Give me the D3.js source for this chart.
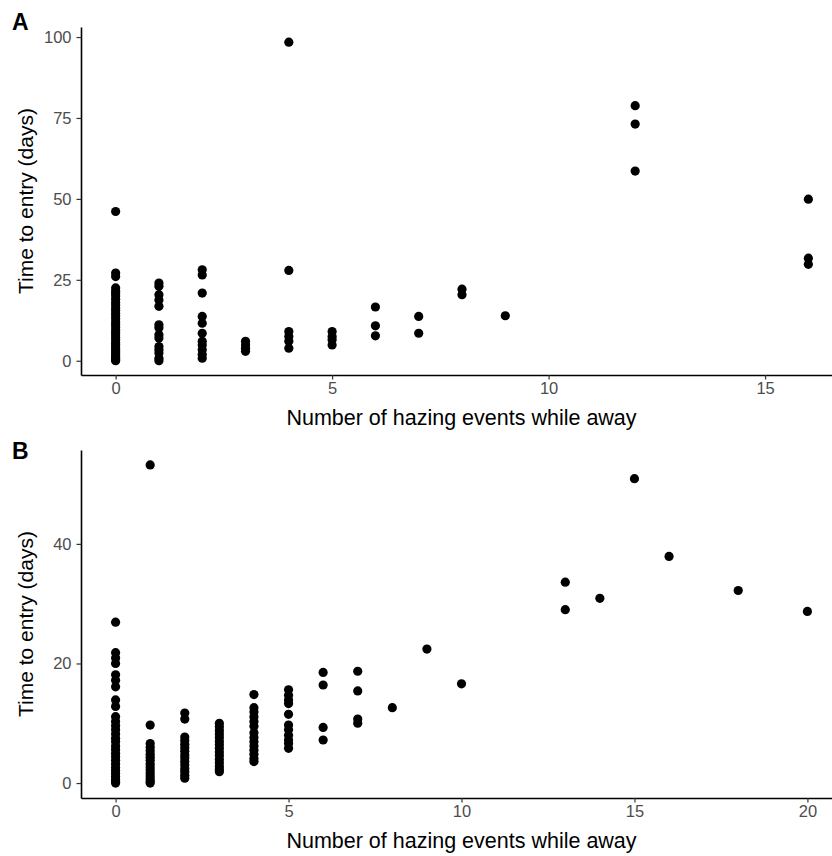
<!DOCTYPE html>
<html>
<head>
<meta charset="utf-8">
<script src="https://cdn.jsdelivr.net/npm/d3@7"></script>
<style>
  body { margin: 0; background: #fff; }
  svg { display: block; font-family: "Liberation Sans", Arial, sans-serif; }
</style>
</head>
<body>
<svg id="chart" width="832" height="856"></svg>
<script>
// ---------- Data ----------
// Panel A: hazing events while away (x) vs time to entry in days (y)
const panelA_x = [
  0,0,0,0,0,0,0,0,0,0,0,0,0,0,0,0,0,0,0,0,0,0,0,0,0,0,0,0,0,0,0,0,0,0,
  1,1,1,1,1,1,1,1,1,1,1,1,1,1,
  2,2,2,2,2,2,2,2,2,2,2,
  3,3,3,3,
  4,4,4,4,4,4,
  5,5,5,5,
  6,6,6,
  7,7,
  8,8,
  9,
  12,12,12,
  16,16,16
];
const panelA_y = [
  46.1,27.1,26.0,22.5,21.5,20.8,20.0,19.0,18.0,17.2,16.3,15.5,14.6,13.8,13.0,12.0,11.2,10.4,9.5,8.7,8.0,7.2,6.4,5.6,5.0,4.3,3.6,3.0,2.4,1.8,1.2,0.7,0.3,0.0,
  24.0,23.0,20.4,18.8,16.8,11.1,10.2,8.0,7.0,4.4,3.4,2.4,0.8,0.0,
  28.1,26.5,20.9,13.7,11.6,8.5,6.0,4.9,3.4,1.9,0.8,
  6.0,4.9,3.9,2.9,
  98.4,27.9,9.0,7.5,6.0,3.9,
  9.0,7.5,6.5,4.9,
  16.6,10.8,7.7,
  13.7,8.5,
  22.1,20.4,
  13.9,
  78.8,73.1,58.6,
  49.9,31.7,29.8
];

// Panel B
const panelB_x = [
  0,0,0,0,0,0,0,0,0,0,0,0,0,0,0,0,0,0,0,0,0,0,0,0,0,0,0,0,0,
  1,1,1,1,1,1,1,1,1,1,1,1,1,1,1,1,
  2,2,2,2,2,2,2,2,2,2,2,2,2,2,2,
  3,3,3,3,3,3,3,3,3,3,3,3,3,3,3,
  4,4,4,4,4,4,4,4,4,4,4,4,4,4,
  5,5,5,5,5,5,5,5,5,5,5,
  6,6,6,6,
  7,7,7,7,
  8,
  9,
  10,
  13,13,
  14,
  15,
  16,
  18,
  20
];
const panelB_y = [
  26.9,21.8,20.9,20.0,18.1,17.2,16.1,13.9,12.8,11.1,10.3,9.6,8.9,8.2,7.5,6.9,6.2,5.6,5.0,4.4,3.8,3.2,2.6,2.1,1.6,1.1,0.6,0.2,0.0,
  53.2,9.7,6.6,6.0,5.4,4.8,4.3,3.8,3.2,2.7,2.2,1.7,1.2,0.7,0.3,0.0,
  11.7,10.7,7.7,7.1,6.5,5.9,5.3,4.7,4.2,3.6,3.0,2.4,1.9,1.3,0.8,
  10.0,9.4,8.8,8.2,7.6,7.0,6.4,5.8,5.2,4.6,4.0,3.4,2.8,2.3,1.9,
  14.8,12.6,11.9,11.1,10.3,9.5,8.4,7.6,6.9,6.2,5.5,4.8,4.1,3.6,
  15.6,14.7,13.9,11.5,9.7,8.9,8.0,7.2,6.6,5.8,13.3,
  18.5,16.4,9.3,7.2,
  18.7,15.4,10.7,10.0,
  12.6,
  22.4,
  16.6,
  33.6,29.0,
  30.9,
  50.9,
  37.9,
  32.2,
  28.7
];

const panelA_xticks = [0, 5, 10, 15];
const panelA_yticks = [0, 25, 50, 75, 100];
const panelB_xticks = [0, 5, 10, 15, 20];
const panelB_yticks = [0, 20, 40];

const xTitle = "Number of hazing events while away";
const yTitle = "Time to entry (days)";
const panelLabels = ["A", "B"];

// ---------- Drawing ----------
const svg = d3.select("#chart");

function drawPanel(cfg) {
  const g = svg.append("g");
  const x = d3.scaleLinear().domain(cfg.xDomain).range([cfg.left, cfg.right]);
  const y = d3.scaleLinear().domain(cfg.yDomain).range([cfg.bottom, cfg.top]);

  // points
  g.append("g").selectAll("circle")
    .data(cfg.xs.map((v, i) => [v, cfg.ys[i]]))
    .join("circle")
    .attr("cx", d => x(d[0]))
    .attr("cy", d => y(d[1]))
    .attr("r", 4.6)
    .attr("fill", "#000");

  // x axis
  const xAxis = g.append("g")
    .attr("transform", `translate(0,${cfg.bottom})`)
    .call(d3.axisBottom(x).tickValues(cfg.xticks).tickSize(4.5).tickSizeOuter(0).tickPadding(3));
  // y axis
  const yAxis = g.append("g")
    .attr("transform", `translate(${cfg.left},0)`)
    .call(d3.axisLeft(y).tickValues(cfg.yticks).tickSize(4.5).tickSizeOuter(0).tickPadding(5));

  [xAxis, yAxis].forEach(a => {
    a.select(".domain").attr("stroke", "#000").attr("stroke-width", 1.6);
    a.selectAll(".tick line").attr("stroke", "#333").attr("stroke-width", 1.2);
    a.selectAll(".tick text").attr("fill", "#4d4d4d").attr("font-size", 16.5)
      .attr("font-family", "Liberation Sans, Arial, sans-serif");
  });

  // axis titles
  g.append("text")
    .attr("x", (cfg.left + 832) / 2 + 5)
    .attr("y", cfg.bottom + 50)
    .attr("text-anchor", "middle")
    .attr("font-size", 21.5)
    .attr("fill", "#000")
    .text(xTitle);

  g.append("text")
    .attr("transform", `translate(33,${(cfg.top + cfg.bottom) / 2}) rotate(-90)`)
    .attr("text-anchor", "middle")
    .attr("font-size", 21)
    .attr("fill", "#000")
    .text(yTitle);

  // panel label
  g.append("text")
    .attr("x", 12)
    .attr("y", cfg.labelY)
    .attr("font-size", 23)
    .attr("font-weight", "bold")
    .attr("fill", "#000")
    .text(cfg.label);
}

drawPanel({
  xs: panelA_x, ys: panelA_y,
  xDomain: [-0.8, 16.8], yDomain: [-4.4, 103.1],
  left: 81, right: 843, top: 27, bottom: 375,
  xticks: panelA_xticks, yticks: panelA_yticks,
  label: panelLabels[0], labelY: 30
});

drawPanel({
  xs: panelB_x, ys: panelB_y,
  xDomain: [-1, 21], yDomain: [-2.5, 55.7],
  left: 81, right: 842, top: 450, bottom: 798,
  xticks: panelB_xticks, yticks: panelB_yticks,
  label: panelLabels[1], labelY: 459
});
</script>
</body>
</html>
